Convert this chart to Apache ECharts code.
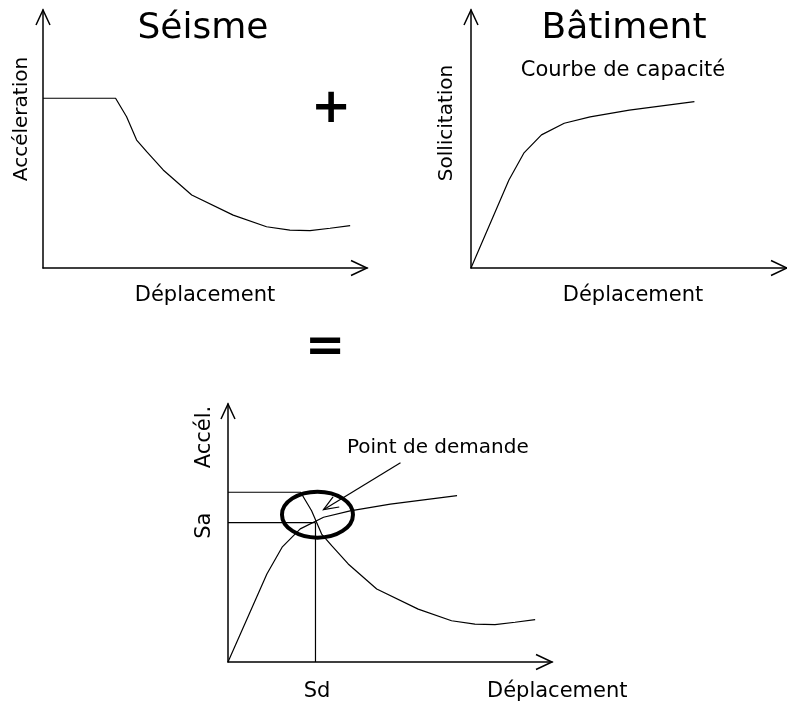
<!DOCTYPE html>
<html><head><meta charset="utf-8">
<script src="https://cdn.jsdelivr.net/npm/echarts@6/dist/echarts.min.js"></script>
<style>html,body{margin:0;padding:0;background:#fff}#c{width:787px;height:704px}</style>
</head><body><div id="c"></div>
<script>
// Seismic demand spectrum (acceleration vs displacement)
const seismicX = [0, 22.4, 25.8, 28.9, 32.0, 37.1, 45.9, 58.7, 69.0, 76.2, 82.4, 88.6, 94.8];
const seismicY = [65.8, 65.8, 58.6, 49.6, 45.1, 38.0, 28.3, 20.5, 16.0, 14.7, 14.5, 15.4, 16.4];
// Building capacity curve
const capacityX = [0, 12.0, 16.7, 22.3, 29.5, 37.7, 50.1, 70.7];
const capacityY = [0, 34.1, 44.5, 51.6, 56.1, 58.6, 61.2, 64.5];
// Demand point
const demandSd = 27;
const demandSa = 54;
// Axis ranges
const axisMax = 100;

const FONT = '"DejaVu Sans"';
const zip = (xs, ys) => xs.map((x, i) => [x, ys[i]]);

const grids = [
  {left: 43, top: 10, width: 324, height: 258},
  {left: 471, top: 10, width: 324, height: 258},
  {left: 228, top: 404, width: 324, height: 258}
];

function xAx(i) {
  return {type: 'value', gridIndex: i, min: 0, max: axisMax,
    axisLine: {show: true, onZero: false, lineStyle: {color: '#000', width: 1.5}},
    axisTick: {show: false}, axisLabel: {show: false}, splitLine: {show: false}};
}
function yAx(i) {
  return {type: 'value', gridIndex: i, min: 0, max: axisMax,
    axisLine: {show: true, onZero: false, lineStyle: {color: '#000', width: 1.5}},
    axisTick: {show: false}, axisLabel: {show: false}, splitLine: {show: false}};
}

function txt(text, x, y, size, opts) {
  opts = opts || {};
  return {
    type: 'text', x: x, y: y, rotation: opts.rotation || 0,
    style: {
      text: text, font: (opts.weight || 'normal') + ' ' + size + 'px ' + FONT, fill: '#000',
      align: opts.align || 'center', verticalAlign: 'middle',
      textAlign: opts.align || 'center', textVerticalAlign: 'middle'
    }
  };
}

function arrowSeries(i) {
  return {
    type: 'custom', xAxisIndex: i, yAxisIndex: i, clip: false, silent: true,
    data: [[axisMax, axisMax]],
    renderItem: function (params, api) {
      const xt = api.coord([axisMax, 0]);
      const yt = api.coord([0, axisMax]);
      const st = {stroke: '#000', lineWidth: 1.5, fill: 'none'};
      return {type: 'group', children: [
        {type: 'polyline', shape: {points: [[xt[0] - 16, xt[1] - 7.5], xt, [xt[0] - 16, xt[1] + 7.5]]}, style: st},
        {type: 'polyline', shape: {points: [[yt[0] - 7, yt[1] + 15], yt, [yt[0] + 7, yt[1] + 15]]}, style: st}
      ]};
    }
  };
}

const curveStyle = {color: '#000', width: 1.2};

const option = {
  animation: false,
  backgroundColor: '#fff',
  grid: grids,
  xAxis: [xAx(0), xAx(1), xAx(2)],
  yAxis: [yAx(0), yAx(1), yAx(2)],
  graphic: [
    txt('Séisme', 203, 29, 36),
    txt('Bâtiment', 624, 29, 36),
    txt('Courbe de capacité', 623, 70.5, 21),
    txt('+', 331, 110, 48, {weight: 'bold'}),
    txt('=', 325, 349, 48, {weight: 'bold'}),
    txt('Accéleration', 22, 119, 20, {rotation: Math.PI / 2}),
    txt('Sollicitation', 447, 123, 20, {rotation: Math.PI / 2}),
    txt('Déplacement', 205, 295.5, 21),
    txt('Déplacement', 633, 295.5, 21),
    txt('Accél.', 205, 437, 21, {rotation: Math.PI / 2}),
    txt('Déplacement', 487, 692, 21, {align: 'left'})
  ],
  series: [
    {type: 'line', xAxisIndex: 0, yAxisIndex: 0, data: zip(seismicX, seismicY), showSymbol: false, lineStyle: curveStyle, silent: true},
    {type: 'line', xAxisIndex: 1, yAxisIndex: 1, data: zip(capacityX, capacityY), showSymbol: false, lineStyle: curveStyle, silent: true},
    {type: 'line', xAxisIndex: 2, yAxisIndex: 2, data: zip(seismicX, seismicY), showSymbol: false, lineStyle: curveStyle, silent: true},
    {type: 'line', xAxisIndex: 2, yAxisIndex: 2, data: zip(capacityX, capacityY), showSymbol: false, lineStyle: curveStyle, silent: true},
    arrowSeries(0), arrowSeries(1), arrowSeries(2),
    {
      type: 'custom', xAxisIndex: 2, yAxisIndex: 2, clip: false, silent: true,
      data: [[demandSd, demandSa]],
      renderItem: function (params, api) {
        const p = api.coord([api.value(0), api.value(1)]);
        const o = api.coord([0, 0]);
        const st = {stroke: '#000', lineWidth: 1.2, fill: 'none'};
        const tip = [p[0] + 8, p[1] - 13];
        const tail = [p[0] + 85, p[1] - 60];
        const dx = tail[0] - tip[0], dy = tail[1] - tip[1];
        const len = Math.sqrt(dx * dx + dy * dy);
        const ux = dx / len, uy = dy / len;
        const a = 0.38, L = 16;
        const w1 = [tip[0] + L * (ux * Math.cos(a) - uy * Math.sin(a)), tip[1] + L * (ux * Math.sin(a) + uy * Math.cos(a))];
        const w2 = [tip[0] + L * (ux * Math.cos(-a) - uy * Math.sin(-a)), tip[1] + L * (ux * Math.sin(-a) + uy * Math.cos(-a))];
        return {type: 'group', children: [
          {type: 'line', shape: {x1: o[0], y1: p[1], x2: p[0], y2: p[1]}, style: st},
          {type: 'line', shape: {x1: p[0], y1: p[1], x2: p[0], y2: o[1]}, style: st},
          {type: 'ellipse', shape: {cx: p[0] + 2, cy: p[1] - 8, rx: 35.5, ry: 23}, style: {stroke: '#000', lineWidth: 4, fill: 'none'}},
          {type: 'line', shape: {x1: tail[0], y1: tail[1], x2: tip[0], y2: tip[1]}, style: st},
          {type: 'polyline', shape: {points: [w1, tip, w2]}, style: st},
          txt('Sd', p[0] + 1.5, o[1] + 30, 21),
          txt('Sa', o[0] - 23, p[1] + 3, 21, {rotation: Math.PI / 2}),
          txt('Point de demande', p[0] + 31.5, p[1] - 75, 20, {align: 'left'})
        ]};
      }
    }
  ]
};
const chart = echarts.init(document.getElementById('c'));
chart.setOption(option);
</script>
</body></html>
